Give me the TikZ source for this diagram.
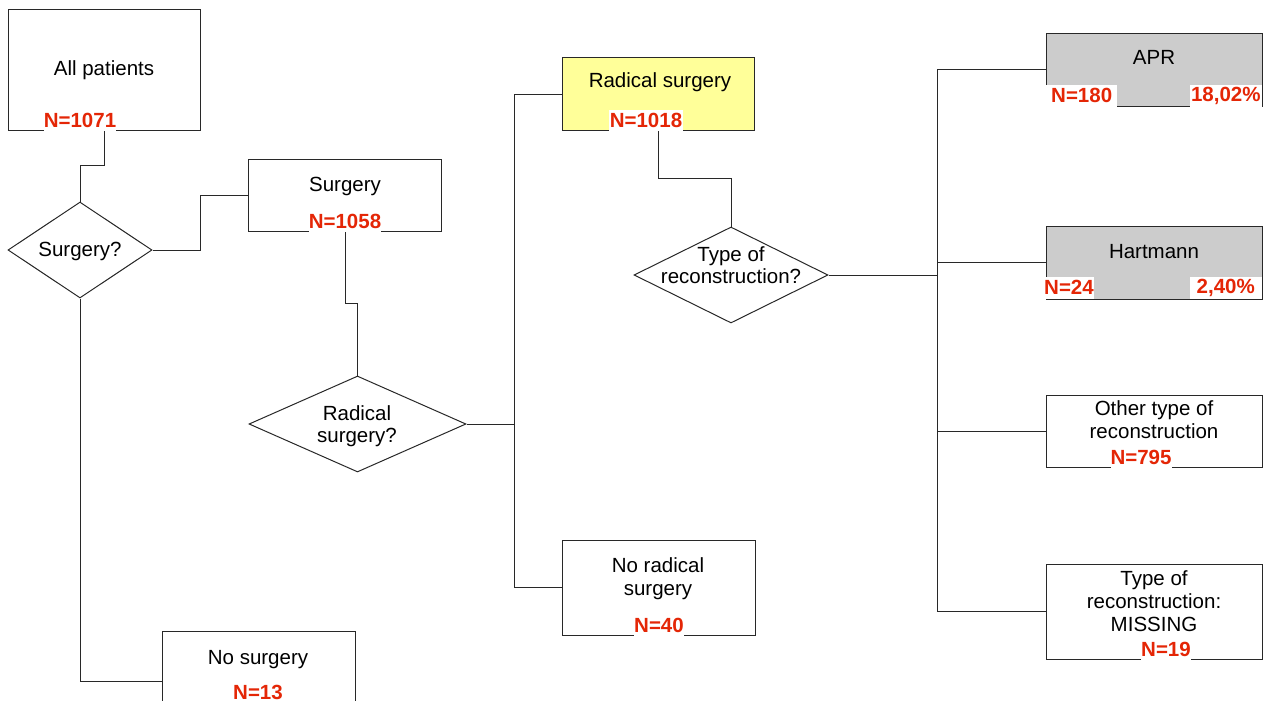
\documentclass[tikz,border=0pt]{standalone}
\usepackage{fontspec}
\setmainfont{Liberation Sans}
\usetikzlibrary{shapes.geometric}
\definecolor{nred}{RGB}{228,38,6}
\definecolor{yelbox}{RGB}{255,255,153}
\definecolor{graybox}{RGB}{204,204,204}
\definecolor{edgec}{RGB}{40,40,40}
\tikzset{
  box/.style={draw=edgec, line width=1, fill=white, inner sep=0, rectangle},
  dia/.style={draw=edgec, line width=1, fill=white, diamond, inner sep=0},
  txt/.style={anchor=base, inner sep=0, font=\fontsize{20.5}{23}\selectfont},
  num/.style={anchor=base, inner sep=0, font=\fontsize{20.5}{23}\selectfont\bfseries, text=nred},
  numbg/.style={fill=white, inner sep=0, font=\fontsize{20.5}{23}\selectfont\bfseries, text=nred},
  conn/.style={draw=edgec, line width=1}
}
\begin{document}
\begin{tikzpicture}[x=1pt,y=-1pt]
\useasboundingbox (0,0) rectangle (1272,701);
% boxes
\node[box, minimum width=192, minimum height=120] (all) at (104,70) {};
\node[dia, minimum width=144, minimum height=96] (q1) at (80,250) {};
\node[box, minimum width=193, minimum height=72] (surg) at (345,195) {};
\node[dia, minimum width=217, minimum height=96] (q2) at (357.5,424) {};
\node[box, fill=yelbox, minimum width=192, minimum height=72] (rad) at (658,94) {};
\node[box, minimum width=193, minimum height=95] (norad) at (658.5,587.5) {};
\node[dia, minimum width=194, minimum height=96] (q3) at (731,275) {};
\node[box, fill=graybox, minimum width=216, minimum height=72] (apr) at (1154,70) {};
\node[box, fill=graybox, minimum width=216, minimum height=73] (hart) at (1154,262.5) {};
\node[box, minimum width=216, minimum height=72] (other) at (1154,431) {};
\node[box, minimum width=216, minimum height=95] (miss) at (1154,611.5) {};
\node[box, minimum width=193, minimum height=100] (nosurg) at (258.5,681) {};

% connectors
\coordinate (j1) at (514,424);
\coordinate (j2) at (937,275);
\draw[conn] (all.south) -- ++(0,35) -| (q1.north);
\draw[conn] (q1.east) -- ++(48,0) |- (surg.west);
\draw[conn] (q1.south) |- (nosurg.west);
\draw[conn] (surg.south) -- ++(0,72) -| (q2.north);
\draw[conn] (q2.east) -- (j1);
\draw[conn] (j1) |- (rad.west);
\draw[conn] (j1) |- (norad.west);
\draw[conn] (rad.south) -- ++(0,48) -| (q3.north);
\draw[conn] (q3.east) -- (j2);
\draw[conn] (j2) |- (apr.west);
\draw[conn] (j2) |- (hart.west);
\draw[conn] (j2) |- (other.west);
\draw[conn] (j2) |- (miss.west);

% texts
\node[txt] (t-all) at (104,76) {All patients};
\node[numbg, minimum width=60, minimum height=21, anchor=south] (n-all) at (80,131) {N=1071};
\node[txt] (t-q1) at (80,256) {Surgery?};
\node[txt] (t-surg) at (345,191) {Surgery};
\node[numbg, minimum width=48, minimum height=21, anchor=south] (n-surg) at (345,232) {N=1058};
\node[txt] (t-q2a) at (357,420) {Radical};
\node[txt] (t-q2b) at (357,442) {surgery?};
\node[txt] (t-rad) at (660,88) {Radical surgery};
\node[numbg, minimum width=74, minimum height=21, anchor=south] (n-rad) at (646,131) {N=1018};
\node[txt] (t-q3a) at (731,261) {Type of};
\node[txt] (t-q3b) at (731,283) {reconstruction?};
\node[txt] (t-nr1) at (658,572) {No radical};
\node[txt] (t-nr2) at (658,595) {surgery};
\node[numbg, minimum width=48, minimum height=21, anchor=south] (n-nr) at (659,636) {N=40};
\node[txt] (t-apr) at (1154,65) {APR};
\node[numbg, minimum width=71, minimum height=22, anchor=south west] (n-apr) at (1046,107) {N=180};
\node[numbg, minimum width=72, minimum height=22, anchor=south east] (p-apr) at (1262,107) {18,02\%};
\node[txt] (t-hart) at (1154,258) {Hartmann};
\node[numbg, minimum width=49, minimum height=22, anchor=south west] (n-hart) at (1044,299) {N=24};
\node[numbg, minimum width=72, minimum height=22, anchor=south east] (p-hart) at (1262,299) {2,40\%};
\node[txt] (t-ot1) at (1154,415) {Other type of};
\node[txt] (t-ot2) at (1154,438) {reconstruction};
\node[numbg, minimum width=50, minimum height=21, anchor=south] (n-ot) at (1141,468) {N=795};
\node[txt] (t-mi1) at (1154,585) {Type of};
\node[txt] (t-mi2) at (1154,608) {reconstruction:};
\node[txt] (t-mi3) at (1154,631) {MISSING};
\node[numbg, minimum width=50, minimum height=21, anchor=south] (n-mi) at (1166,660) {N=19};
\node[txt] (t-ns) at (258,664) {No surgery};
\node[num] (n-ns) at (258,699) {N=13};
\end{tikzpicture}
\end{document}
